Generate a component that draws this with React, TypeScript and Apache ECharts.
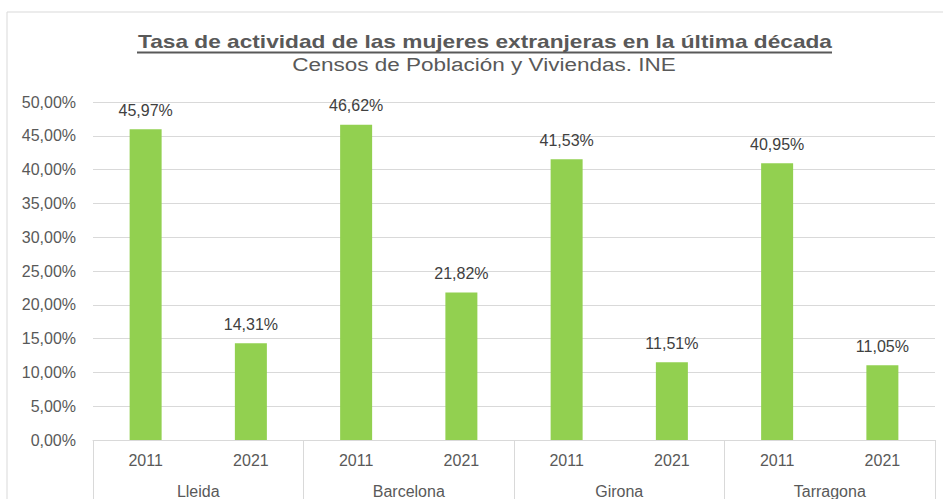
import React, { useEffect, useRef } from "react";
import * as echarts from "echarts";

const years = ["2011", "2021", "2011", "2021", "2011", "2021", "2011", "2021"];
const provinces = ["Lleida", "Barcelona", "Girona", "Tarragona"];
const values = [45.97, 14.31, 46.62, 21.82, 41.53, 11.51, 40.95, 11.05];
const titleText = "Tasa de actividad de las mujeres extranjeras en la última década";
const subtitleText = "Censos de Población y Viviendas. INE";

const fmt = (v: number) => v.toFixed(2).replace(".", ",") + "%";
const FONT = "'Liberation Sans', Arial, Helvetica, sans-serif";

export default function App() {
  const ref = useRef<HTMLDivElement>(null);
  useEffect(() => {
    if (!ref.current) return;
    const chart = echarts.init(ref.current, null, { renderer: "svg" });
    chart.setOption({
      animation: false,
      backgroundColor: "#ffffff",
      textStyle: { fontFamily: FONT },
      graphic: [
        {
          type: "rect",
          z: -10,
          shape: { x: 7, y: 12, width: 1000, height: 600 },
          style: { fill: "none", stroke: "#d9d9d9", lineWidth: 1 },
        },
        {
          type: "text",
          x: 485,
          y: 41.5,
          scaleX: 1.26,
          style: {
            text: titleText,
            fontFamily: FONT,
            fontSize: 18,
            fontWeight: "bold",
            fill: "#595959",
            textAlign: "center",
            textVerticalAlign: "middle",
          },
        },
        {
          type: "line",
          shape: { x1: 137, y1: 52.5, x2: 832, y2: 52.5 },
          style: { stroke: "#595959", lineWidth: 2 },
        },
        {
          type: "text",
          x: 484,
          y: 65,
          scaleX: 1.25,
          style: {
            text: subtitleText,
            fontFamily: FONT,
            fontSize: 18,
            fill: "#595959",
            textAlign: "center",
            textVerticalAlign: "middle",
          },
        },
      ],
      grid: { left: 93, right: 8, top: 102, bottom: 58, containLabel: false },
      xAxis: [
        {
          type: "category",
          data: years,
          position: "bottom",
          axisLine: { show: true, lineStyle: { color: "#d9d9d9", width: 1 } },
          axisTick: { show: false },
          axisLabel: { interval: 0, margin: 12, fontSize: 16, color: "#595959", fontFamily: FONT },
        },
        {
          type: "category",
          data: provinces,
          position: "bottom",
          axisLine: { show: false },
          axisTick: { show: true, interval: 0, length: 80, lineStyle: { color: "#d9d9d9", width: 1 } },
          axisLabel: { interval: 0, margin: 43, fontSize: 16, color: "#595959", fontFamily: FONT },
        },
      ],
      yAxis: {
        type: "value",
        min: 0,
        max: 50,
        interval: 5,
        axisLine: { show: false },
        axisTick: { show: false },
        splitLine: { lineStyle: { color: "#d9d9d9", width: 1 } },
        axisLabel: { formatter: (v: number) => fmt(v), fontSize: 16, color: "#595959", margin: 17, fontFamily: FONT },
      },
      series: [
        {
          type: "bar",
          xAxisIndex: 0,
          data: values,
          barWidth: 32,
          itemStyle: { color: "#92D050" },
          label: {
            show: true,
            position: "top",
            distance: 11,
            formatter: (p: any) => fmt(p.value),
            fontSize: 16,
            color: "#404040",
            fontFamily: FONT,
          },
        },
      ],
    });
    return () => chart.dispose();
  }, []);
  return (
    <div
      ref={ref}
      style={{ position: "fixed", left: 0, top: 0, width: 943, height: 499, background: "#fff" }}
    />
  );
}
